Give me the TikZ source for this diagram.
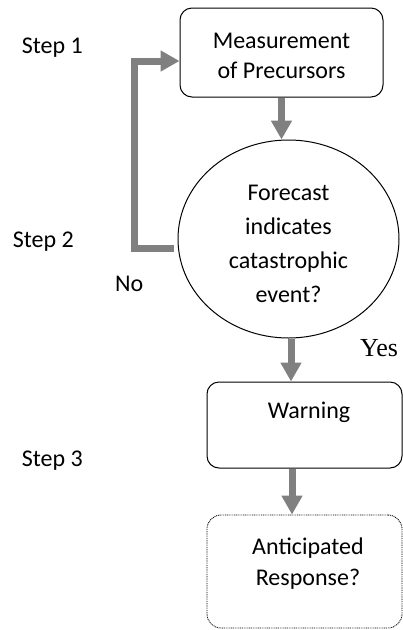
\documentclass[tikz,border=0pt]{standalone}
\usepackage{fontspec}
\setmainfont{Carlito}
\newfontfamily\yesfont{Liberation Serif}
\usetikzlibrary{shapes.geometric,arrows.meta,calc}
\definecolor{arrgray}{RGB}{128,128,128}
\tikzset{
  rbox/.style={draw=black, line width=1pt, rounded corners=12pt, inner sep=0pt},
  dbox/.style={draw=black, line width=0.9pt, dash pattern=on 0.9pt off 0.9pt, rounded corners=14pt, inner sep=0pt},
  circbox/.style={draw=black, line width=1pt, ellipse, inner sep=0pt},
  txt/.style={anchor=base, inner sep=0pt, font=\fontsize{24}{30}\selectfont},
  ltxt/.style={anchor=base west, inner sep=0pt, font=\fontsize{24}{30}\selectfont},
  garrow/.style={draw=arrgray, line width=7pt, line join=miter, -{Triangle[length=19pt,width=20pt]}}
}
\begin{document}
\begin{tikzpicture}[x=1pt,y=-1pt]
\useasboundingbox (0,0) rectangle (403,630);
% shapes
\node[rbox, minimum width=203pt, minimum height=89pt] (meas) at (281.5,52.5) {};
\node[circbox, minimum width=221pt, minimum height=198pt] (circ) at (288.5,239) {};
\node[rbox, minimum width=195pt, minimum height=86pt] (warn) at (304.5,425) {};
\node[dbox, minimum width=195pt, minimum height=113pt] (antic) at (304.5,571.5) {};
% texts
\node[txt] (m1) at (281.5,48.3) {Measurement};
\node[txt] (m2) at (281.5,78.3) {of Precursors};
\node[txt] (c1) at (288.5,200) {Forecast};
\node[txt] (c2) at (288.5,234) {indicates};
\node[txt] (c3) at (288.5,268) {catastrophic};
\node[txt] (c4) at (288.5,302) {event?};
\node[txt] (w1) at (309,418) {Warning};
\node[txt] (a1) at (308,554) {Anticipated};
\node[txt] (a2t) at (308,585) {Response?};
\node[ltxt] (s1) at (21.7,53.3) {Step 1};
\node[ltxt] (s2) at (12.7,247.7) {Step 2};
\node[ltxt] (s3) at (21.7,466) {Step 3};
\node[ltxt] (no) at (115,291.7) {No};
\node[anchor=base west, inner sep=0pt, font=\yesfont\fontsize{26}{30}\selectfont] (yes) at (360,356.7) {Yes};
% connectors
\draw[garrow] (meas.south) -- (meas.south |- circ.north);
\coordinate (a2) at ([xshift=2.5pt]circ.south);
\draw[garrow] (a2) -- (a2 |- warn.north);
\coordinate (a3) at ([xshift=-12.5pt]warn.south);
\draw[garrow] (a3) -- (a3 |- antic.north);
\coordinate (ls) at ([shift={(-4pt,-9pt)}]circ.west);
\coordinate (le) at ([yshift=-8.5pt]meas.west);
\draw[garrow] (ls) -- ++(-39,0) |- (le);
\end{tikzpicture}
\end{document}
